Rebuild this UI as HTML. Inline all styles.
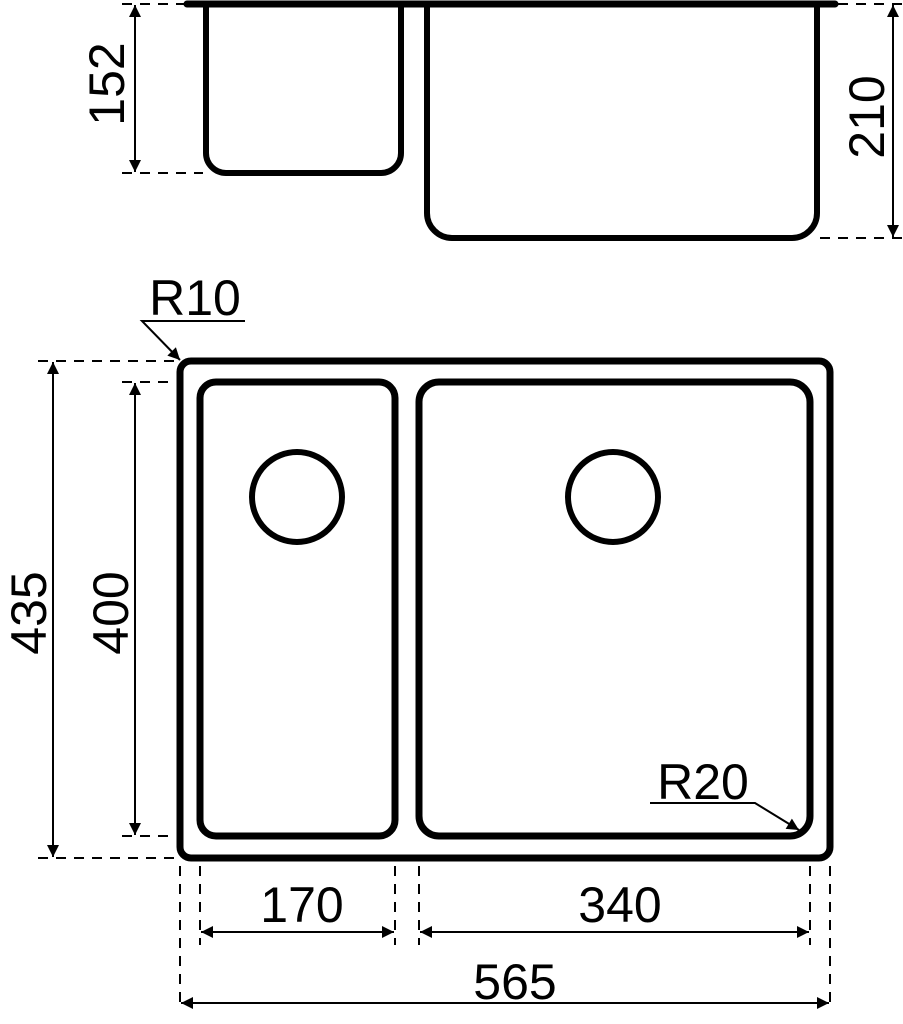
<!DOCTYPE html>
<html><head><style>body{margin:0;background:#fff}svg{display:block}</style></head><body>
<svg width="903" height="1024" viewBox="0 0 903 1024" xmlns="http://www.w3.org/2000/svg" font-family="Liberation Sans, sans-serif">
<defs>
<marker id="b" viewBox="0 0 10 10" refX="10" refY="5" markerWidth="16" markerHeight="12" markerUnits="userSpaceOnUse" orient="auto-start-reverse"><path d="M0,0 L10,5 L0,10 Z" fill="#000"/></marker>
</defs>
<g fill="none" stroke="#000">
<line x1="187" y1="4" x2="835" y2="4" stroke-width="7" stroke-linecap="round"/>
<path d="M206,4 V153 a20,20 0 0 0 20,20 H381 a20,20 0 0 0 20,-20 V4" stroke-width="6"/>
<path d="M427,4 V213 a25,25 0 0 0 25,25 H792 a25,25 0 0 0 25,-25 V4" stroke-width="6"/>
<g stroke-width="2" stroke-dasharray="10,8">
<line x1="122" y1="4" x2="200" y2="4"/><line x1="122" y1="173" x2="203" y2="173"/>
<line x1="820" y1="4" x2="903" y2="4"/><line x1="820" y1="238" x2="903" y2="238"/>
<line x1="38" y1="361" x2="176" y2="361"/><line x1="122" y1="382" x2="176" y2="382"/>
<line x1="122" y1="836" x2="176" y2="836"/><line x1="38" y1="858" x2="176" y2="858"/>
<line x1="180" y1="866" x2="180" y2="1010"/><line x1="830" y1="866" x2="830" y2="1010"/>
<line x1="200" y1="866" x2="200" y2="945"/><line x1="395" y1="866" x2="395" y2="945"/>
<line x1="419" y1="866" x2="419" y2="945"/><line x1="810" y1="866" x2="810" y2="945"/>
</g>
<g stroke-width="2">
<line x1="135" y1="5" x2="135" y2="172" marker-start="url(#b)" marker-end="url(#b)"/>
<line x1="893" y1="5" x2="893" y2="237" marker-start="url(#b)" marker-end="url(#b)"/>
<line x1="53" y1="362" x2="53" y2="857" marker-start="url(#b)" marker-end="url(#b)"/>
<line x1="135" y1="383" x2="135" y2="835" marker-start="url(#b)" marker-end="url(#b)"/>
<line x1="201" y1="932" x2="394" y2="932" marker-start="url(#b)" marker-end="url(#b)"/>
<line x1="420" y1="932" x2="809" y2="932" marker-start="url(#b)" marker-end="url(#b)"/>
<line x1="181" y1="1003" x2="829" y2="1003" marker-start="url(#b)" marker-end="url(#b)"/>
<polyline points="245,321 142,321 180,360" marker-end="url(#b)"/>
<polyline points="650,803 755,803 799,830" marker-end="url(#b)"/>
</g>
<rect x="180" y="361" width="650" height="497" rx="11" stroke-width="7"/>
<rect x="200" y="382" width="195" height="454" rx="16" stroke-width="7"/>
<rect x="419" y="382" width="391" height="454" rx="20" stroke-width="7"/>
<circle cx="297" cy="497" r="45" stroke-width="6"/>
<circle cx="613" cy="497" r="45" stroke-width="6"/>
</g>
<g font-size="50" fill="#000" text-anchor="middle">
<text transform="translate(124,84) rotate(-90)">152</text>
<text transform="translate(884,117) rotate(-90)">210</text>
<text transform="translate(46,613) rotate(-90)">435</text>
<text transform="translate(128,613) rotate(-90)">400</text>
<text x="302" y="922">170</text>
<text x="620" y="922">340</text>
<text x="515" y="999">565</text>
<text x="195" y="315">R10</text>
<text x="703" y="799">R20</text>
</g>
</svg>
</body></html>
